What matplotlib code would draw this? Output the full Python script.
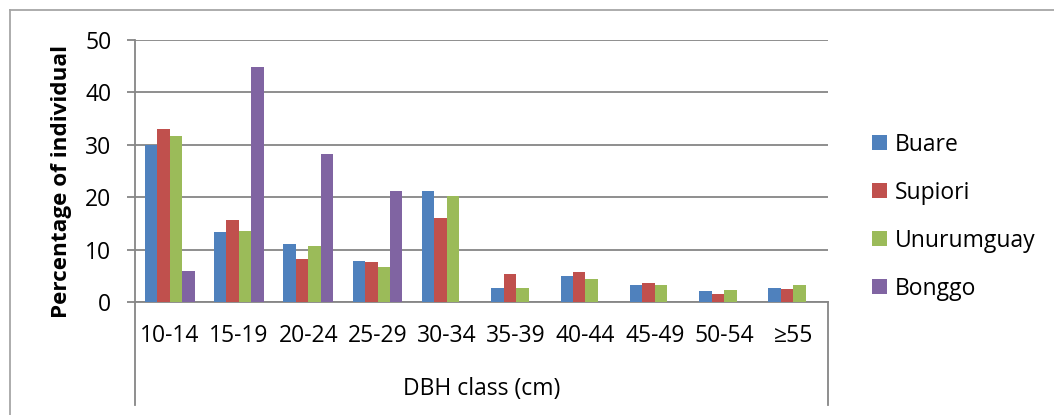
import matplotlib
matplotlib.use("Agg")
import matplotlib.pyplot as plt
from matplotlib.lines import Line2D
import numpy as np

# DBH classes and share of individuals (%) per site
classes = ["10-14", "15-19", "20-24", "25-29", "30-34",
           "35-39", "40-44", "45-49", "50-54", "\u226555"]
buare = [30.0, 13.3, 11.1, 7.8, 21.1, 2.7, 4.9, 3.2, 2.1, 2.7]
supiori = [33.1, 15.6, 8.3, 7.6, 16.0, 5.4, 5.7, 3.6, 1.6, 2.4]
unurumguay = [31.6, 13.5, 10.6, 6.7, 20.3, 2.7, 4.4, 3.3, 2.2, 3.3]
bonggo = [5.9, 44.8, 28.3, 21.1, 0, 0, 0, 0, 0, 0]

sites = ["Buare", "Supiori", "Unurumguay", "Bonggo"]
colors = ["#4F81BD", "#C0504D", "#9BBB59", "#8064A2"]
grid_col = "#868686"

plt.rcParams['font.family'] = ['Open Sans', 'DejaVu Sans']

fig = plt.figure(figsize=(10.54, 4.15), dpi=100)
ax = fig.add_axes([135/1054, 113/415, 693/1054, 262/415])

x = np.arange(len(classes))
w = 0.18
series = [buare, supiori, unurumguay, bonggo]
handles = []
for i, (vals, c) in enumerate(zip(series, colors)):
    b = ax.bar(x + (i - 1.5) * w, vals, width=w, color=c, zorder=3)
    handles.append(b)

ax.set_xlim(-0.5, len(classes) - 0.5)
ax.set_ylim(0, 50)
ax.set_yticks(range(0, 51, 10))
ax.set_xticks(x)
ax.set_xticklabels(classes)

for s in ["top", "right"]:
    ax.spines[s].set_visible(False)
ax.spines["left"].set_color(grid_col)
ax.spines["bottom"].set_color(grid_col)
ax.spines["left"].set_linewidth(1.3)
ax.spines["bottom"].set_linewidth(1.3)

ax.yaxis.grid(True, color=grid_col, linewidth=1.3, zorder=0)
ax.set_axisbelow(True)
ax.tick_params(axis="y", length=6, width=1.3, color=grid_col, labelsize=16.5, pad=11)
ax.tick_params(axis="x", length=0, labelsize=16.5, pad=16)

ax.set_ylabel("Percentage of individual", fontsize=16.2, fontweight="bold")
ax.yaxis.set_label_coords(-63/693, 121/262)
ax.set_xlabel("DBH class (cm)", fontsize=16.5)
ax.xaxis.set_label_coords(0.5, -75/262)

# category box lines below the axis
for xv in (0, 1):
    ax.add_line(Line2D([xv, xv], [0, -103/262], transform=ax.transAxes,
                       color=grid_col, lw=1.3, clip_on=False))

# chart frame (top and left edges)
fig.add_artist(Line2D([10/1054, 1], [1 - 10/415, 1 - 10/415],
                      color="#A6A6A6", lw=1.3))
fig.add_artist(Line2D([10/1054, 10/1054], [0, 1 - 10/415],
                      color="#A6A6A6", lw=1.3))

leg = fig.legend(handles, sites, loc="upper left",
                 bbox_to_anchor=(851/1054, 1 - 112/415), frameon=False,
                 fontsize=16.5, handlelength=0.65, handleheight=0.65,
                 handletextpad=0.35, labelspacing=1.05)

fig.savefig("out.png", dpi=100)
